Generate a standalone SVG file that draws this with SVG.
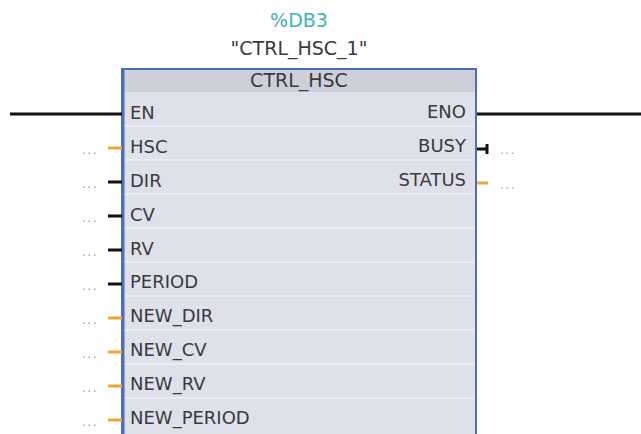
<svg xmlns="http://www.w3.org/2000/svg" width="641" height="434" viewBox="0 0 641 434">
<style>
text{font-family:"DejaVu Sans","Noto Sans",sans-serif;fill:#3a3a3a}
.pin{font-size:18px}
.r{text-anchor:end}
.dots{font-size:12px;fill:#a0a0a0;letter-spacing:1.5px}
.sep{stroke:#f0f1f5;stroke-width:1.5}
.blk{stroke:#111;stroke-width:3;fill:none}
.org{stroke:#f2a52c;stroke-width:3;fill:none}
</style>
<rect width="641" height="434" fill="#ffffff"/>
<g id="instance-labels">
<text x="299" y="27" font-size="19" text-anchor="middle" style="fill:#3cb6b0">%DB3</text>
<text x="299" y="55" font-size="19" text-anchor="middle">"CTRL_HSC_1"</text>
</g>
<g id="ctrl_hsc">
<rect x="122" y="69" width="354" height="366" fill="#dfe1ea"/>
<rect x="122" y="69" width="354" height="23" fill="#cdd0d9"/>
<g class="sep">
<line x1="124" y1="126" x2="474" y2="126"/>
<line x1="124" y1="160" x2="474" y2="160"/>
<line x1="124" y1="194" x2="474" y2="194"/>
<line x1="124" y1="228" x2="474" y2="228"/>
<line x1="124" y1="262" x2="474" y2="262"/>
<line x1="124" y1="296" x2="474" y2="296"/>
<line x1="124" y1="330" x2="474" y2="330"/>
<line x1="124" y1="364" x2="474" y2="364"/>
<line x1="124" y1="398" x2="474" y2="398"/>
</g>
<rect x="122" y="69" width="354" height="366" fill="none" stroke="#4e6cc0" stroke-width="2"/>
<line x1="123" y1="69" x2="123" y2="434" stroke="#4e6cc0" stroke-width="3"/>
<text x="299" y="87" font-size="19" text-anchor="middle">CTRL_HSC</text>
<text class="pin" x="130" y="119">EN</text>
<text class="pin" x="130" y="153">HSC</text>
<text class="pin" x="130" y="187">DIR</text>
<text class="pin" x="130" y="221">CV</text>
<text class="pin" x="130" y="255">RV</text>
<text class="pin" x="130" y="288">PERIOD</text>
<text class="pin" x="130" y="322">NEW_DIR</text>
<text class="pin" x="130" y="356">NEW_CV</text>
<text class="pin" x="130" y="390">NEW_RV</text>
<text class="pin" x="130" y="424">NEW_PERIOD</text>
<text class="pin r" x="466" y="118">ENO</text>
<text class="pin r" x="466" y="152">BUSY</text>
<text class="pin r" x="466" y="186">STATUS</text>
</g>
<g id="operands">
<text class="dots" x="82" y="154">...</text>
<text class="dots" x="82" y="188">...</text>
<text class="dots" x="82" y="222">...</text>
<text class="dots" x="82" y="256">...</text>
<text class="dots" x="82" y="290">...</text>
<text class="dots" x="82" y="324">...</text>
<text class="dots" x="82" y="358">...</text>
<text class="dots" x="82" y="392">...</text>
<text class="dots" x="82" y="426">...</text>
<text class="dots" x="500" y="154">...</text>
<text class="dots" x="500" y="189">...</text>
</g>
<g id="connectors">
<line class="blk" x1="10" y1="114" x2="122" y2="114"/>
<line class="blk" x1="477" y1="114" x2="641" y2="114"/>
<line class="org" x1="108" y1="148" x2="122" y2="148"/>
<line class="blk" x1="108" y1="182" x2="122" y2="182"/>
<line class="blk" x1="108" y1="216" x2="122" y2="216"/>
<line class="blk" x1="108" y1="250" x2="122" y2="250"/>
<line class="blk" x1="108" y1="284" x2="122" y2="284"/>
<line class="org" x1="108" y1="318" x2="122" y2="318"/>
<line class="org" x1="108" y1="352" x2="122" y2="352"/>
<line class="org" x1="108" y1="386" x2="122" y2="386"/>
<line class="org" x1="108" y1="420" x2="122" y2="420"/>
<line class="blk" x1="477" y1="149" x2="488" y2="149"/>
<line class="blk" x1="487" y1="144" x2="487" y2="154"/>
<line class="org" x1="477" y1="183" x2="488" y2="183"/>
</g>
</svg>
